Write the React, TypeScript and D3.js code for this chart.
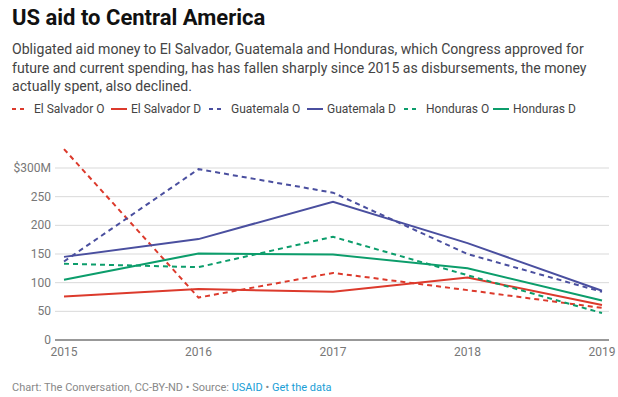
import React, { useEffect, useRef } from "react";
import * as d3 from "d3";

const years = [2015, 2016, 2017, 2018, 2019];
const yTicks = [0, 50, 100, 150, 200, 250, 300];

const elSalvadorO = [333, 74, 117, 87, 56];
const elSalvadorD = [76, 89, 84, 109, 61];
const guatemalaO = [137, 298, 257, 150, 84];
const guatemalaD = [145, 176, 241, 169, 86];
const hondurasO = [133, 127, 180, 113, 47];
const hondurasD = [105, 151, 149, 125, 69];

const seriesNames = [
  "El Salvador O",
  "El Salvador D",
  "Guatemala O",
  "Guatemala D",
  "Honduras O",
  "Honduras D",
];

const RED = "#dc3a2c";
const BLUE = "#4a4f9f";
const GREEN = "#0c9d6b";

const App = () => {
  const ref = useRef<SVGSVGElement>(null);

  useEffect(() => {
    const svg = d3.select(ref.current);
    svg.selectAll("*").remove();

    const font = "Roboto, sans-serif";
    const series = [
      { name: seriesNames[0], values: elSalvadorO, color: RED, dashed: true },
      { name: seriesNames[1], values: elSalvadorD, color: RED, dashed: false },
      { name: seriesNames[2], values: guatemalaO, color: BLUE, dashed: true },
      { name: seriesNames[3], values: guatemalaD, color: BLUE, dashed: false },
      { name: seriesNames[4], values: hondurasO, color: GREEN, dashed: true },
      { name: seriesNames[5], values: hondurasD, color: GREEN, dashed: false },
    ];

    // title + subtitle
    svg.append("text")
      .attr("x", 12).attr("y", 25)
      .style("font-family", font).style("font-weight", "700")
      .style("font-size", "22px").attr("fill", "#111")
      .text("US aid to Central America");

    const sub = [
      "Obligated aid money to El Salvador, Guatemala and Honduras, which Congress approved for",
      "future and current spending, has has fallen sharply since 2015 as disbursements, the money",
      "actually spent, also declined.",
    ];
    sub.forEach((s, i) => {
      svg.append("text")
        .attr("x", 12).attr("y", 54 + i * 18.5)
        .style("font-family", font).style("font-size", "14.1px")
        .attr("fill", "#444")
        .text(s);
    });

    // legend
    const legendX = [12, 111, 209, 307, 404, 493];
    series.forEach((s, i) => {
      const g = svg.append("g").attr("transform", `translate(${legendX[i]},109)`);
      g.append("line")
        .attr("x1", 0).attr("x2", 16).attr("y1", 0).attr("y2", 0)
        .attr("stroke", s.color).attr("stroke-width", 2)
        .attr("stroke-dasharray", s.dashed ? "4,4" : null);
      g.append("text")
        .attr("x", s.dashed ? 22 : 20).attr("y", 4)
        .style("font-family", font).style("font-size", "12px")
        .attr("fill", "#444")
        .text(s.name);
    });

    // chart
    const x = d3.scaleLinear().domain([2015, 2019]).range([64, 602]);
    const y = d3.scaleLinear().domain([0, 300]).range([340, 168]);

    const grid = svg.append("g");
    yTicks.forEach((t) => {
      if (t > 0) {
        grid.append("line")
          .attr("x1", 55).attr("x2", 609)
          .attr("y1", y(t)).attr("y2", y(t))
          .attr("stroke", "#d9d9d9").attr("stroke-width", 1);
      }
      grid.append("text")
        .attr("x", 51).attr("y", y(t) + 4)
        .attr("text-anchor", "end")
        .style("font-family", font).style("font-size", "12px")
        .attr("fill", "#777")
        .text(t === 300 ? "$300M" : String(t));
    });

    grid.append("line")
      .attr("x1", 55).attr("x2", 609)
      .attr("y1", y(0)).attr("y2", y(0))
      .attr("stroke", "#333").attr("stroke-width", 1);

    years.forEach((yr) => {
      grid.append("text")
        .attr("x", x(yr)).attr("y", 356)
        .attr("text-anchor", "middle")
        .style("font-family", font).style("font-size", "12px")
        .attr("fill", "#777")
        .text(String(yr));
    });

    const line = d3.line<number>()
      .x((_d, i) => x(years[i]))
      .y((d) => y(d));

    series.forEach((s) => {
      svg.append("path")
        .datum(s.values)
        .attr("d", line)
        .attr("fill", "none")
        .attr("stroke", s.color)
        .attr("stroke-width", 2)
        .attr("stroke-dasharray", s.dashed ? "5,4" : null);
    });

    // footer
    const foot = svg.append("text")
      .attr("x", 12).attr("y", 391)
      .style("font-family", font).style("font-size", "11px")
      .attr("fill", "#888");
    foot.append("tspan").text("Chart: The Conversation, CC-BY-ND • Source: ");
    foot.append("tspan").attr("fill", "#1a9ed6").text("USAID");
    foot.append("tspan").text(" • ");
    foot.append("tspan").attr("fill", "#1a9ed6").text("Get the data");
  }, []);

  return (
    <svg
      ref={ref}
      width={618}
      height={397}
      style={{ position: "absolute", left: 0, top: 0, background: "#fff" }}
    />
  );
};

export default App;
